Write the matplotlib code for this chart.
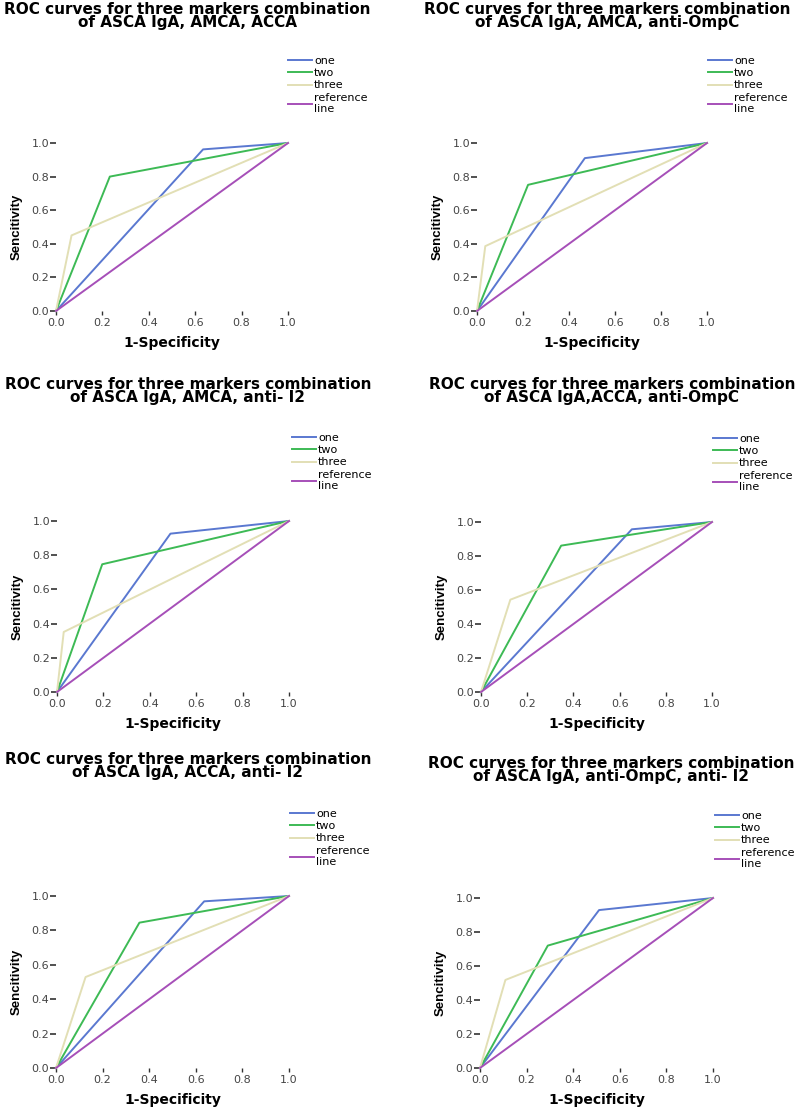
import matplotlib
matplotlib.use("Agg")
import matplotlib.pyplot as plt

# ROC data (corner point of each curve)
titles = [
    "ROC curves for three markers combination\nof ASCA IgA, AMCA, ACCA",
    "ROC curves for three markers combination\nof ASCA IgA, AMCA, anti-OmpC",
    "ROC curves for three markers combination\nof ASCA IgA, AMCA, anti- I2",
    "ROC curves for three markers combination\nof ASCA IgA,ACCA, anti-OmpC",
    "ROC curves for three markers combination\nof ASCA IgA, ACCA, anti- I2",
    "ROC curves for three markers combination\nof ASCA IgA, anti-OmpC, anti- I2",
]
one_fpr = [0.634, 0.469, 0.489, 0.653, 0.636, 0.511]
one_tpr = [0.962, 0.910, 0.926, 0.957, 0.969, 0.929]
two_fpr = [0.232, 0.222, 0.195, 0.347, 0.358, 0.291]
two_tpr = [0.800, 0.751, 0.747, 0.861, 0.845, 0.720]
three_fpr = [0.067, 0.036, 0.029, 0.127, 0.127, 0.109]
three_tpr = [0.450, 0.386, 0.351, 0.543, 0.529, 0.518]
ref_x = [0, 1]
ref_y = [0, 1]
ticks = [0.0, 0.2, 0.4, 0.6, 0.8, 1.0]
legend_labels = ["one", "two", "three", "reference\nline"]

W, H = 800, 1109

# pixel layout (left, top, right, bottom)
axes_box = [(56, 143, 288, 311), (477, 143, 707, 311),
            (57, 521, 289, 692), (481, 522, 712, 692),
            (56, 896, 289, 1068), (480, 898, 713, 1068)]
title_pos = [(187, 2), (607, 2), (188, 377), (612, 377), (188, 752), (611, 756)]
legend_pos = [(288, 56), (708, 56), (292, 433), (713, 434), (290, 809), (715, 811)]

c_one = "#5a78d0"
c_two = "#3dba55"
c_three = "#e2dfb5"
c_ref = "#a64fb8"

fig = plt.figure(figsize=(W / 100, H / 100), dpi=100)

for i in range(6):
    x0, y0, x1, y1 = axes_box[i]
    w, h = x1 - x0, y1 - y0
    ax = fig.add_axes([x0 / W, 1 - y1 / H, w / W, h / H])

    lines = []
    lines += ax.plot([0, one_fpr[i], 1], [0, one_tpr[i], 1], color=c_one, lw=1.4, clip_on=False)
    lines += ax.plot([0, two_fpr[i], 1], [0, two_tpr[i], 1], color=c_two, lw=1.4, clip_on=False)
    lines += ax.plot([0, three_fpr[i], 1], [0, three_tpr[i], 1], color=c_three, lw=1.4, clip_on=False)
    lines += ax.plot(ref_x, ref_y, color=c_ref, lw=1.4, clip_on=False)

    ax.set_xlim(0, 1)
    ax.set_ylim(0, 1)
    ax.set_xticks(ticks)
    ax.set_yticks(ticks)
    ax.set_xticklabels([f"{t:.1f}" for t in ticks])
    ax.set_yticklabels([f"{t:.1f}" for t in ticks])
    for s in ax.spines.values():
        s.set_visible(False)
    ax.tick_params(axis="x", direction="out", length=3, width=1, color="#333333",
                   labelsize=8, labelcolor="#444444", pad=2)
    ax.tick_params(axis="y", direction="out", length=4, width=1.2, color="#333333",
                   labelsize=8, labelcolor="#444444", pad=1)

    ax.set_xlabel("1-Specificity", fontsize=10, fontweight="bold", family="DejaVu Sans")
    ax.xaxis.set_label_coords(0.5, -25 / h)
    ax.set_ylabel("Sencitivity", fontsize=9.5, fontweight="bold", family="Liberation Sans")
    ax.yaxis.set_label_coords(-33 / w, 0.5)

    tx, ty = title_pos[i]
    fig.text(tx / W, 1 - ty / H, titles[i], ha="center", va="top", fontsize=11,
             fontweight="bold", family="DejaVu Sans", linespacing=0.85)

    lx, ly = legend_pos[i]
    ax.legend(lines, legend_labels, loc="upper left", bbox_to_anchor=(lx / W, 1 - ly / H),
              bbox_transform=fig.transFigure, frameon=False, fontsize=8, borderpad=0,
              borderaxespad=0, handlelength=2.2, handletextpad=0.15, labelspacing=0.2)

fig.savefig("out.png", dpi=100)
